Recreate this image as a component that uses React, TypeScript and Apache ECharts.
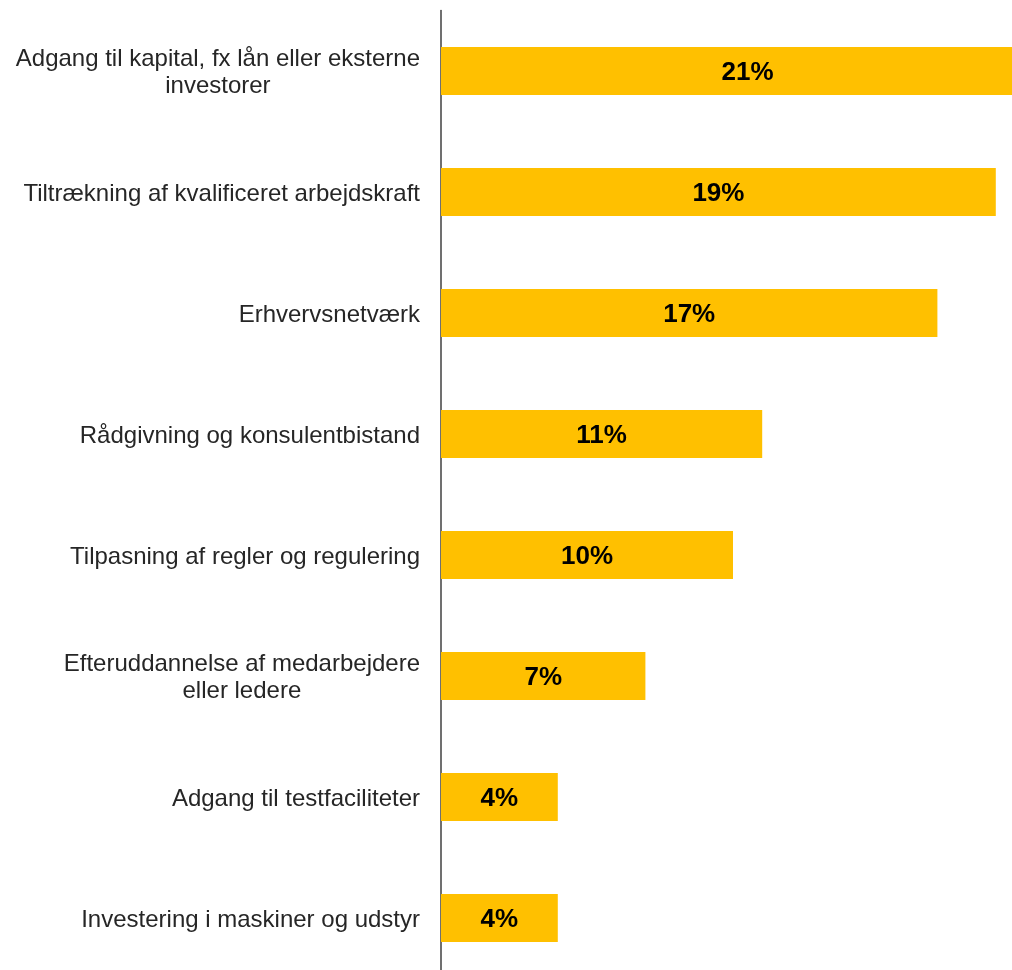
import React, { useEffect, useRef } from "react";
import * as echarts from "echarts";

const categories = [
  "Adgang til kapital, fx lån eller eksterne\ninvestorer",
  "Tiltrækning af kvalificeret arbejdskraft",
  "Erhvervsnetværk",
  "Rådgivning og konsulentbistand",
  "Tilpasning af regler og regulering",
  "Efteruddannelse af medarbejdere\neller ledere",
  "Adgang til testfaciliteter",
  "Investering i maskiner og udstyr",
];
const values = [21, 19, 17, 11, 10, 7, 4, 4];

export default function App() {
  const ref = useRef<HTMLDivElement>(null);
  useEffect(() => {
    if (!ref.current) return;
    const chart = echarts.init(ref.current, null, { renderer: "svg" });
    chart.setOption({
      animation: false,
      grid: { left: 441, top: 10.5, height: 968, width: 642.4 },
      xAxis: {
        type: "value",
        min: 0,
        max: 22,
        show: false,
        splitLine: { show: false },
      },
      yAxis: {
        type: "category",
        inverse: true,
        data: categories,
        axisLine: { show: true, lineStyle: { color: "#404040", width: 1.5 } },
        axisTick: { show: false },
        axisLabel: {
          margin: 21,
          fontFamily: "Liberation Sans, Arial, sans-serif",
          fontSize: 24,
          color: "#262626",
          align: "right",
          formatter: (v: string) =>
            v
              .split("\n")
              .map((l) => "{c|" + l + "}")
              .join("\n"),
          rich: {
            c: {
              align: "center",
              fontFamily: "Liberation Sans, Arial, sans-serif",
              fontSize: 24,
              color: "#262626",
              lineHeight: 27,
            },
          },
        },
      },
      series: [
        {
          type: "bar",
          data: values,
          barWidth: 48,
          itemStyle: { color: "#FFC000" },
          label: {
            show: true,
            position: "inside",
            formatter: "{c}%",
            fontFamily: "Liberation Sans, Arial, sans-serif",
            fontWeight: "bold",
            fontSize: 26,
            color: "#000000",
          },
        },
      ],
    });
    return () => chart.dispose();
  }, []);
  return (
    <div
      ref={ref}
      style={{ position: "fixed", left: 0, top: 0, width: 1100, height: 985 }}
    />
  );
}
